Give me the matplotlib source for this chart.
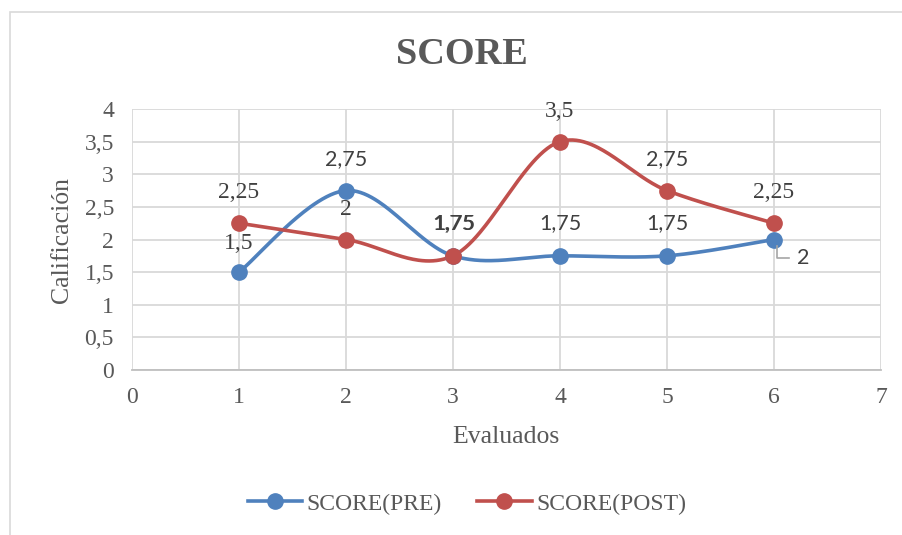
import matplotlib
matplotlib.use("Agg")
import matplotlib.pyplot as plt
import numpy as np
from matplotlib.patches import Rectangle
from matplotlib.lines import Line2D

# ---- data ----
evaluados = [1, 2, 3, 4, 5, 6]
score_pre = [1.5, 2.75, 1.75, 1.75, 1.75, 2]
score_post = [2.25, 2, 1.75, 3.5, 2.75, 2.25]
pre_labels = ["1,5", "2,75", "1,75", "1,75", "1,75", "2"]
post_labels = ["2,25", "2", "1,75", "3,5", "2,75", "2,25"]
yticks = [0, 0.5, 1, 1.5, 2, 2.5, 3, 3.5, 4]
ytick_labels = ["0", "0,5", "1", "1,5", "2", "2,5", "3", "3,5", "4"]
xticks = [0, 1, 2, 3, 4, 5, 6, 7]

# ---- styles ----
BLUE = "#4F81BD"
RED = "#C0504D"
GRID = "#D9D9D9"
TXT = "#595959"
LBL = "#404040"
SERIF = "Liberation Serif"
SANS = "Lato"

# label offsets in pixels (dx, dy) and font per label
pre_off = [(0, 29), (0, 31), (1, 33), (0, 33), (0, 33), (29, -18)]
pre_font = [SERIF, SANS, SANS, SANS, SANS, SANS]
post_off = [(0, 31), (0, 30), (0, 33), (0, 30), (0, 31), (0, 31)]
post_font = [SERIF, SERIF, SANS, SERIF, SANS, SERIF]
SIZES = {SERIF: 17, SANS: 15.5}


def excel_smooth(x, y, n=60):
    x = np.asarray(x, float)
    y = np.asarray(y, float)
    P = np.column_stack([x, y])
    out = []
    m = len(P)
    for i in range(m - 1):
        p0 = P[i - 1] if i > 0 else P[i]
        p1 = P[i]
        p2 = P[i + 1]
        p3 = P[i + 2] if i + 2 < m else P[i + 1]
        c1 = p1 + (p2 - p0) / 6.0
        c2 = p2 - (p3 - p1) / 6.0
        t = np.linspace(0, 1, n)[:, None]
        seg = ((1 - t) ** 3) * p1 + 3 * ((1 - t) ** 2) * t * c1 + 3 * (1 - t) * t ** 2 * c2 + t ** 3 * p2
        if i > 0:
            seg = seg[1:]
        out.append(seg)
    out = np.vstack(out)
    return out[:, 0], out[:, 1]


fig = plt.figure(figsize=(9.02, 5.35), dpi=100)
W, H = 902, 535

# outer chart border
fig.patches.append(Rectangle((10 / W, 0 - 0.01), 1.0, 1 - 12 / H + 0.01,
                             transform=fig.transFigure, fill=False,
                             edgecolor=GRID, linewidth=1.2))

ax = fig.add_axes([132 / W, 1 - 370 / H, (881 - 132) / W, (370 - 109) / H])
ax.set_xlim(0, 7)
ax.set_ylim(0, 4)
ax.set_xticks(xticks)
ax.set_yticks(yticks)
ax.set_yticklabels(ytick_labels)
ax.grid(True, color=GRID, linewidth=1.3)
ax.set_axisbelow(True)
for s in ["top", "right", "left"]:
    ax.spines[s].set_visible(False)
ax.spines["bottom"].set_color("#BFBFBF")
ax.spines["bottom"].set_linewidth(1.3)
ax.tick_params(length=0, colors=TXT, labelsize=17)
ax.tick_params(axis="y", pad=13)
ax.tick_params(axis="x", pad=12)
for lab in ax.get_xticklabels() + ax.get_yticklabels():
    lab.set_fontfamily(SERIF)
    lab.set_color(TXT)

for ys, col in [(score_pre, BLUE), (score_post, RED)]:
    sx, sy = excel_smooth(evaluados, ys)
    ax.plot(sx, sy, color=col, linewidth=2.6, solid_capstyle="round", zorder=3)
    ax.plot(evaluados, ys, linestyle="none", marker="o", markersize=11,
            color=col, zorder=4)

for xv, yv, t, (dx, dy), f in zip(evaluados, score_pre, pre_labels, pre_off, pre_font):
    ax.annotate(t, (xv, yv), xytext=(dx, dy), textcoords="offset pixels",
                ha="center", va="center", fontsize=SIZES[f], family=f, color=LBL, zorder=5)
for xv, yv, t, (dx, dy), f in zip(evaluados, score_post, post_labels, post_off, post_font):
    ax.annotate(t, (xv, yv), xytext=(dx, dy), textcoords="offset pixels",
                ha="center", va="center", fontsize=SIZES[f], family=f, color=LBL, zorder=5)

# leader line for the last PRE label
px, py = ax.transData.transform((evaluados[-1], score_pre[-1]))
fig.add_artist(Line2D([(px + 3) / W, (px + 3) / W, (px + 15) / W],
                      [(py - 6) / (H), (py - 18) / H, (py - 18) / H],
                      transform=fig.transFigure, color="#A6A6A6", linewidth=1.2))

fig.text(462 / W, 1 - 54 / H, "SCORE", ha="center", va="center", fontsize=27.5,
         fontweight="bold", family=SERIF, color=TXT)
fig.text(62 / W, 1 - 240 / H, "Calificación", rotation=90, ha="center", va="center",
         fontsize=18.5, family=SERIF, color=TXT)
fig.text(506 / W, 1 - 437 / H, "Evaluados", ha="center", va="center",
         fontsize=18.5, family=SERIF, color=TXT)

handles = [Line2D([], [], color=BLUE, linewidth=2.6, marker="o", markersize=11),
           Line2D([], [], color=RED, linewidth=2.6, marker="o", markersize=11)]
leg = fig.legend(handles, ["SCORE(PRE)", "SCORE(POST)"], loc="center",
                 bbox_to_anchor=(467 / W, 1 - 504 / H), ncol=2, frameon=False,
                 prop={"family": SERIF, "size": 17}, handlelength=2.3,
                 handletextpad=0.2, columnspacing=1.5, labelcolor=TXT)

fig.savefig("out.png", dpi=100)
